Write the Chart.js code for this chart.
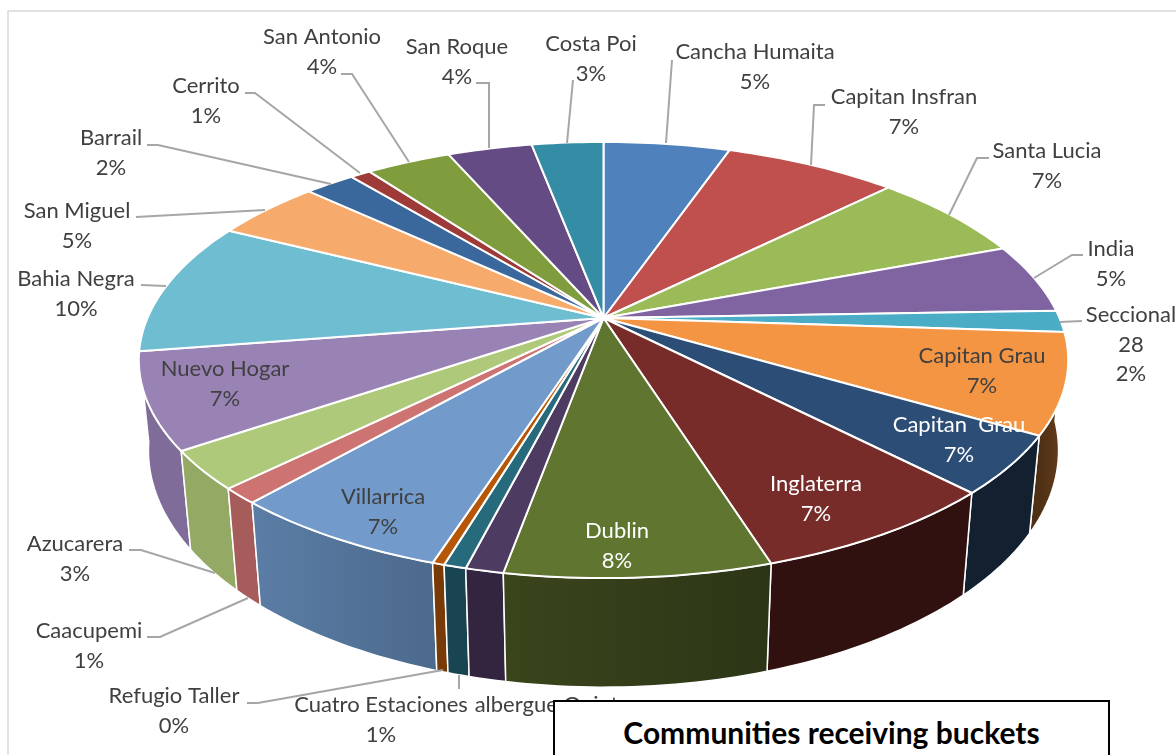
<!DOCTYPE html>
<html>
<head>
<meta charset="utf-8">
<title>Communities receiving buckets</title>
<script src="https://cdn.jsdelivr.net/npm/chart.js@4"></script>
<style>
    html, body { margin: 0; padding: 0; background: #fff; overflow: hidden; }
    #wrap { position: relative; width: 1176px; height: 755px; }
    #titleBox {
        position: absolute; left: 553px; top: 700px; width: 553px; height: 70px;
        border: 2px solid #000; background: #fff; text-align: center;
        font: bold 30px Lato, sans-serif; color: #000; line-height: 60px;
    }
</style>
</head>
<body>
<div id="wrap">
    <canvas id="myChart" width="1176" height="755"></canvas>
    <div id="titleBox">Communities receiving buckets</div>
</div>
<script>
// Slices, clockwise from 12 o'clock
const communities = [
    'Cancha Humaita', 'Capitan Insfran', 'Santa Lucia', 'India', 'Seccional\n28',
    'Capitan Grau', 'Capitan  Grau', 'Inglaterra', 'Dublin', 'albergue Quinta',
    'Cuatro Estaciones', 'Refugio Taller', 'Villarrica', 'Caacupemi', 'Azucarera',
    'Nuevo Hogar', 'Bahia Negra', 'San Miguel', 'Barrail', 'Cerrito',
    'San Antonio', 'San Roque', 'Costa Poi'
];
// Slice sizes as they look in the picture
const sliceValues = [
    5.3, 7.25, 6.7, 5.2, 1.6,
    7.4, 4.3, 7.4, 7.7, 1.1,
    0.65, 0.35, 6.5, 1.15, 2.85,
    7.1, 9.9, 4.5, 2.1, 0.85,
    3.55, 3.55, 3
];
// Percent text printed on the labels
const percentLabels = [
    '5%', '7%', '7%', '5%', '2%',
    '7%', '7%', '7%', '8%', '',
    '1%', '0%', '7%', '1%', '3%',
    '7%', '10%', '5%', '2%', '1%',
    '4%', '4%', '3%'
];

const topColors = [
    '#4F81BD', '#C0504D', '#9BBB59', '#8064A2', '#4BACC6',
    '#F39543', '#2C4D75', '#772C2A', '#5F7530', '#4D3B62',
    '#276A7C', '#B65708', '#729ACA', '#CD7371', '#AFC97A',
    '#9983B5', '#6FBDD1', '#F6AB6C', '#3A679C', '#9E3A38',
    '#7F9D3D', '#654B83', '#358DA5'
];
// Wall colours, left and right end of each slice's outer wall
const wallColors = [
    ['#3B618E', '#3B618E'], ['#903C3A', '#903C3A'], ['#748C43', '#748C43'], ['#604B7A', '#604B7A'], ['#388195', '#388195'],
    ['#4E3015', '#663E1B'], ['#12202F', '#12202F'], ['#311110', '#311110'], ['#3A451C', '#2C3516'], ['#33243F', '#33243F'],
    ['#194552', '#194552'], ['#783A06', '#783A06'], ['#5B7DA6', '#4C6A8C'], ['#A65C5A', '#A65C5A'], ['#93A964', '#93A964'],
    ['#7F6C99', '#7F6C99'], ['#5A9BAC', '#5A9BAC'], ['#C48A56', '#C48A56'], ['#2E527D', '#2E527D'], ['#7E2E2D', '#7E2E2D'],
    ['#657D31', '#657D31'], ['#503C68', '#503C68'], ['#2A7084', '#2A7084']
];

// How the flat pie is laid over in the picture (perspective view of a thick disc)
const view = { cx: 603.5, cy: 318, radius: 456, squash: 210, tilt: -0.1927, depth: 88, vanish: 4400 };

// Label centres, in slice order
const labelSpots = [
    [755, 52], [904, 97], [1047, 151], [1111, 249], [1131, 315],
    [982, 356], [959, 425], [816, 484], [617, 531], [552, 705],
    [381, 705], [174, 696], [383, 497], [89, 631], [75, 544],
    [225, 369], [76, 279], [77, 211], [111, 138], [206, 86],
    [322, 37], [457, 47], [591, 44]
];
const labelColors = { 6: '#fff', 7: '#fff', 8: '#fff' };
const lineGap = 29.5;

// Leader lines, in label order
const leaderLines = [
    [[672, 60], [666, 143]],
    [[825, 105], [814, 105], [811, 165]],
    [[989, 158], [977, 158], [949, 215]],
    [[1083, 255], [1072, 255], [1034, 278]],
    [[1082, 321], [1060, 322]],
    [[245, 93], [255, 93], [360, 173]],
    [[147, 145], [158, 145], [331, 184]],
    [[136, 217], [265, 210]],
    [[141, 285], [166, 286]],
    [[129, 550], [141, 550], [215, 573]],
    [[147, 637], [160, 637], [248, 598]],
    [[247, 703], [258, 703], [443, 670]],
    [[459, 675], [459, 689]],
    [[341, 74], [352, 74], [409, 162]],
    [[476, 83], [489, 83], [489, 148]],
    [[573, 80], [567, 143]]
];

// Point on the top rim for a chart angle
function rimPoint(angle) {
    const u = Math.cos(angle), v = Math.sin(angle);
    const w = 1 + view.tilt * v;
    return { x: view.cx + view.radius * u / w, y: view.cy + view.squash * v / w, v: v, w: w };
}

// Same point on the lower edge of the wall
function lowerPoint(angle) {
    const p = rimPoint(angle);
    const h = view.depth / p.w;
    return { x: view.cx + (p.x - view.cx) * (1 - h / view.vanish), y: p.y + h };
}

function sampleAngles(start, end) {
    const steps = Math.max(2, Math.ceil((end - start) / 0.02));
    const out = [];
    for (let i = 0; i <= steps; i++) out.push(start + (end - start) * i / steps);
    return out;
}

const tiltedPie = {
    id: 'tiltedPie',
    beforeDatasetsDraw(chart) {
        const ctx = chart.ctx;
        const arcs = chart.getDatasetMeta(0).data;
        ctx.save();
        ctx.lineJoin = 'round';
        ctx.strokeStyle = '#fff';

        // walls first, back to front
        const order = arcs.map((a, i) => i).sort((a, b) => {
            const mid = i => Math.sin((arcs[i].startAngle + arcs[i].endAngle) / 2);
            return mid(a) - mid(b);
        });
        order.forEach(i => {
            const angles = sampleAngles(arcs[i].startAngle, arcs[i].endAngle);
            const top = angles.map(rimPoint);
            const low = angles.map(lowerPoint).reverse();
            const left = Math.min(top[0].x, top[top.length - 1].x);
            const right = Math.max(top[0].x, top[top.length - 1].x);
            const grad = ctx.createLinearGradient(left, 0, right, 0);
            grad.addColorStop(0, wallColors[i][0]);
            grad.addColorStop(1, wallColors[i][1]);
            ctx.beginPath();
            top.concat(low).forEach((p, n) => n ? ctx.lineTo(p.x, p.y) : ctx.moveTo(p.x, p.y));
            ctx.closePath();
            ctx.fillStyle = grad;
            ctx.lineWidth = 1.5;
            ctx.fill();
            ctx.stroke();
        });

        // top face
        arcs.forEach((arc, i) => {
            ctx.beginPath();
            ctx.moveTo(view.cx, view.cy);
            sampleAngles(arc.startAngle, arc.endAngle).map(rimPoint).forEach(p => ctx.lineTo(p.x, p.y));
            ctx.closePath();
            ctx.fillStyle = arc.options.backgroundColor;
            ctx.lineWidth = 2;
            ctx.fill();
            ctx.stroke();
        });
        ctx.restore();
        return false; // the plugin has painted the slices
    },
    afterDraw(chart) {
        const ctx = chart.ctx;
        ctx.save();

        // frame of the chart
        ctx.strokeStyle = '#D9D9D9';
        ctx.lineWidth = 1.5;
        ctx.beginPath();
        ctx.moveTo(8, 755);
        ctx.lineTo(8, 11);
        ctx.lineTo(1176, 11);
        ctx.stroke();

        // leader lines
        ctx.strokeStyle = '#A6A6A6';
        ctx.lineWidth = 2;
        leaderLines.forEach(line => {
            ctx.beginPath();
            line.forEach((p, n) => n ? ctx.lineTo(p[0], p[1]) : ctx.moveTo(p[0], p[1]));
            ctx.stroke();
        });

        // labels
        ctx.font = '22px Lato, sans-serif';
        ctx.textAlign = 'center';
        ctx.textBaseline = 'middle';
        communities.forEach((name, i) => {
            const lines = name.split('\n');
            if (percentLabels[i]) lines.push(percentLabels[i]);
            ctx.fillStyle = labelColors[i] || '#404040';
            lines.forEach((text, n) => {
                ctx.fillText(text, labelSpots[i][0], labelSpots[i][1] + n * lineGap);
            });
        });
        ctx.restore();
    }
};

document.addEventListener('DOMContentLoaded', function () {
    const ctx = document.getElementById('myChart').getContext('2d');
    new Chart(ctx, {
        type: 'pie',
        data: {
            labels: communities,
            datasets: [{
                data: sliceValues,
                backgroundColor: topColors,
                borderColor: '#fff'
            }]
        },
        options: {
            responsive: false,
            animation: false,
            plugins: {
                legend: { display: false },
                tooltip: { enabled: false }
            }
        },
        plugins: [tiltedPie]
    });
});
</script>
</body>
</html>
